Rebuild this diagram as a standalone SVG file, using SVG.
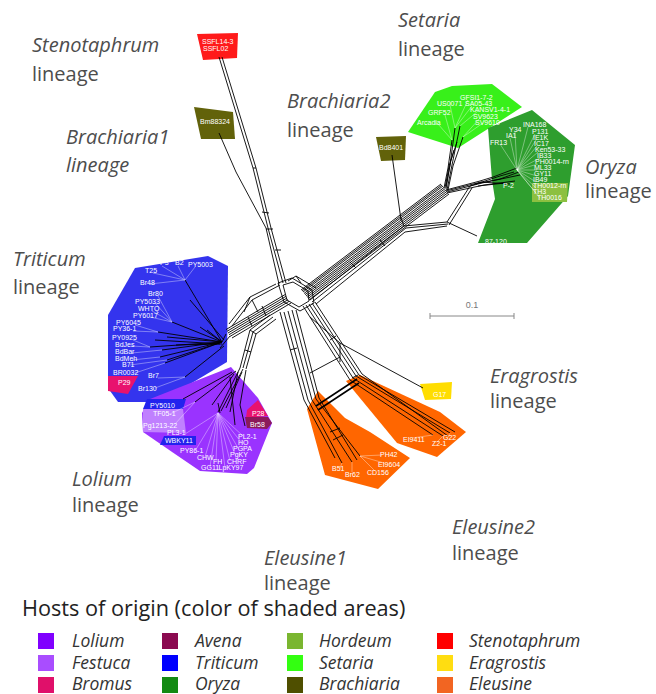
<svg xmlns="http://www.w3.org/2000/svg" width="656" height="694" viewBox="0 0 656 694">
<style>
.tip{font-family:"Liberation Sans",Arial,sans-serif;font-size:7px;fill:#fff}
.lin{font-family:"Open Sans","Liberation Sans",sans-serif;font-size:20px;fill:#4d4d4d}
.it{font-style:italic}
.ttl{font-family:"Open Sans","Liberation Sans",sans-serif;font-size:21.7px;fill:#222}
.leg{font-family:"Open Sans","Liberation Sans",sans-serif;font-size:17.5px;font-style:italic;fill:#333}
.net{fill:none;stroke:#000;stroke-width:0.9}
.ld{fill:none;stroke:#fff;stroke-width:0.5;opacity:0.75}
.sb{stroke:#888;stroke-width:1;fill:none}
</style>
<rect width="656" height="694" fill="#fff"/>

<!-- shaded areas (nodes) -->
<g id="stenotaphrum"><polygon points="197,34 238,33 237,58 203,60" fill="#ff1a1a"/></g>
<g id="brachiaria1"><polygon points="194,107 233,112 235,139 201,139" fill="#62620a"/></g>
<g id="brachiaria2"><polygon points="376,137 406,136 405,160 381,161" fill="#62620a"/></g>
<g id="setaria"><polygon points="408,132 435,92 452,86 492,84 522,107 458,148" fill="#38f01a"/></g>
<g id="oryza">
<polygon points="488,128 532,110 575,145 568,196 527,243 478,243 495,199 492,180" fill="#2e9e2e"/>
<polygon points="532,183 568,183 567,202 532,202" fill="#8cc040"/>
</g>
<g id="triticum">
<polygon points="135,268 208,256 228,266 227,362 160,402 118,402 108,388 108,315" fill="#3434ee"/>
<polygon points="108,376 138,376 128,394 108,391" fill="#e8126e"/>
</g>
<g id="lolium">
<polygon points="150,399 231,367 258,398 272,423 254,468 247,474 200,471 175,454 143,432 142,413" fill="#9a33ff"/>
<polygon points="143,409 183,409 186,433 143,432" fill="#c080ff"/>
<polygon points="147,399 186,399 183,409 143,409" fill="#2222ee"/>
<polygon points="164,436 196,436 196,445 160,445" fill="#2222ee"/>
<polygon points="258,400 268,416 246,418 247,410" fill="#e8126e"/>
<polygon points="245,417 268,417 272,423 267,429 247,428" fill="#8b1a5a"/>
</g>
<g id="eleusine2"><polygon points="346,381 360,375 440,412 466,432 437,457 397,443 355,392" fill="#ff6600"/></g>
<g id="eleusine1"><polygon points="307,409 318,391 345,418 370,432 410,458 378,489 325,475" fill="#ff6600"/></g>
<g id="eragrostis"><polygon points="420,384 452,382 451,399 425,400" fill="#ffdd00"/></g>

<!-- network -->
<g id="connectors" class="net">
<path d="M219,57 L253,168 L268,228 L283,283 M222,57 L256,168 L271,228 L286,283"/>
<path d="M219,133 L236,172 L266,228 L279,284 M253,168 L256,168 M266,229 L273,229 M262,212 L269,213 M275,250 L281,250"/>
<path d="M278,283 L292,278 L312,290 L314,303 L300,311 L284,302 Z M283,285 L293,282 L308,291 L309,301 L299,307 L287,300 Z M288,281 L296,276 L316,288 M296,276 L301,283"/>
<path d="M301,290 L441,184 M302,291 L442,185 M303,292 L443,186 M304,293.5 L444,187.5 M305,294.7 L445,188.7 M306,296 L446,190 M307,297.3 L447,191.3 M308,298.6 L448,192.6 M309,300 L449,194"/>
<path d="M310,300 L404,226 L447,222 M312,302 L406,228 L448,224 M316,304 L405,232 L447,226 M447,222 L477,236 M447,222 L470,186 M449,225 L472,188 M404,226 L401,218 M401,220 L392,155 M380,240 L385,246 M350,262 L356,268"/>
<path d="M446,189 L450,165 L455,128 M447,190 L452,165 L460,126 M448,190 L453,166 L463,137 M445,188 L449,166 L457,142 M444,188 L448,168 L452,140 M446,186 L451,160 L454,150"/>
<path d="M446,190 L480,181 L493,177 L517,168 M447,192 L482,183 L520,175 M447,193 L484,185 L515,181 M446,191 L481,182 L510,184 M470,186 L500,176 L514,172 M475,184 L500,179 L519,172 M478,186 L505,183"/>
<path d="M285,294.6 L226,329.6 M286,296.3 L227,331.3 M287,298 L228,333 M288,299.7 L229,334.7 M289,301.4 L230,336.4 M291,303 L232,338 M262,306 L266,316 M248,317 L252,326"/>
<path d="M280,285 L252,300 L232,326 M276,284 L250,297 L229,324 M252,300 L258,312 M250,297 L244,312"/>
<path d="M270,315 L250,330 L240,368 M273,317 L253,332 L243,368 M276,319 L256,334 L246,369 M250,330 L256,334 M245,350 L251,352"/>
<path d="M303,306 L350,380 L433,435 M306,305 L353,378 L443,436 M309,304 L356,376 L450,433 M312,303 L359,375 L455,432 M315,302 L362,374 L448,436 M330,340 L336,336 M352,378 L358,375"/>
<path d="M284,312 L308,400 L342,463 M288,311 L312,400 L352,462 M292,310 L316,399 L360,456 M280,312 L304,400 L335,458 M296,310 L319,398 L357,460 M330,432 L340,428 M333,440 L343,435 M290,350 L297,348"/>
<path d="M316,406 L357,379 M318,410 L359,383" stroke-width="1.6"/>
<path d="M310,317 L340,343 L340,362 M340,343 L423,388 M310,373 L340,357"/>
<path d="M222,342 L185,280 M222,342 L172,322 M222,342 L158,332 M222,342 L167,337 M222,342 L150,347 M222,342 L162,350 M222,342 L160,357 M222,342 L167,360 M222,342 L165,363 M224,346 L185,377 M222,342 L200,327 M222,342 L207,330 M220,344 L176,345 M226,334 L222,342 M230,336 L220,348 M224,340 L190,300 M222,344 L155,340"/>
<path d="M240,368 L218,412 M243,369 L221,411 M236,371 L195,402 M232,372 L183,399 M238,372 L230,412 M246,370 L240,405 L245,426 M230,377 L235,425 M218,403 L220,413 M242,372 L226,408 M234,374 L212,405"/>
</g>

<!-- leader lines -->
<g id="leaders" class="ld">
<path d="M185,280 L162,266 M185,280 L178,266 M185,280 L195,267 M185,280 L153,273 M185,280 L150,284 M172,322 L158,296 M172,322 L155,303 M172,322 L152,311 M172,322 L150,317 M158,332 L135,325 M158,332 L133,331 M150,347 L133,340 M150,347 L131,346 M162,350 L132,353 M160,357 L132,360 M167,360 L130,365 M165,363 L135,373 M185,377 L158,378 M185,377 L155,388"/>
<path d="M218,413 L185,434 M218,413 L195,451 M218,413 L205,457 M218,413 L216,461 M218,413 L210,467 M218,413 L225,468 M218,413 L230,461 M218,413 L235,454 M218,413 L238,448 M218,413 L241,442 M218,413 L243,436 M195,402 L170,414 M195,402 L175,424"/>
<path d="M455,128 L468,100 M455,128 L450,105 M455,128 L472,106 M452,140 L445,115 M460,126 L478,111 M463,137 L480,118 M463,137 L483,123 M452,140 L438,124"/>
<path d="M517,170 L528,127 M517,170 L515,132 M517,170 L535,134 M517,170 L510,138 M517,170 L536,140 M517,170 L500,144 M517,170 L537,146 M517,170 L538,152 M517,170 L540,158 M517,170 L538,164 M517,170 L537,170 M517,170 L537,176 M517,170 L536,182 M517,170 L536,188 M517,170 L536,193 M517,170 L540,198"/>
<path d="M342,463 L340,468 M352,462 L352,472 M360,456 L375,471 M360,456 L382,455 M360,456 L384,463 M433,435 L412,438 M443,436 L437,442 M450,433 L448,437"/>
</g>

<!-- tip labels -->
<g id="labels">
<text class="tip" x="202" y="43.5">SSFL14-3</text><text class="tip" x="203" y="51">SSFL02</text>
<text class="tip" x="200" y="123.5">Bm88324</text>
<text class="tip" x="379" y="149.5">Bd8401</text>
<text class="tip" x="460" y="99.5">GFSI1-7-2</text><text class="tip" x="437" y="105.5">US0071</text><text class="tip" x="465" y="105.5">SA05-43</text><text class="tip" x="428" y="114.5">GRF52</text><text class="tip" x="470" y="111.5">KANSV1-4-1</text><text class="tip" x="473" y="118.5">SV9623</text><text class="tip" x="475" y="124.5">SV9610</text><text class="tip" x="417" y="124.5">Arcadia</text>
<text class="tip" x="523" y="126.5">INA168</text><text class="tip" x="509" y="131.5">Y34</text><text class="tip" x="532" y="133.5">P131</text><text class="tip" x="506" y="137.5">IA1</text><text class="tip" x="533" y="139.5">IE1K</text><text class="tip" x="490" y="144.5">FR13</text><text class="tip" x="534" y="145.5">IC17</text><text class="tip" x="535" y="151.5">Ken53-33</text><text class="tip" x="537" y="157.5">IB33</text><text class="tip" x="535" y="163.5">PH0014-rn</text><text class="tip" x="534" y="169.5">ML33</text><text class="tip" x="534" y="175.5">GY11</text><text class="tip" x="533" y="181.5">IB49</text><text class="tip" x="533" y="188">TH0012-rn</text><text class="tip" x="533" y="194">TH3</text><text class="tip" x="537" y="199.5">TH0016</text><text class="tip" x="503" y="188">P-2</text><text class="tip" x="485" y="243.5">87-120</text>
<text class="tip" x="160" y="264.5">P3</text><text class="tip" x="175" y="264.5">B2</text><text class="tip" x="188" y="266.5">PY5003</text><text class="tip" x="145" y="272.5">T25</text><text class="tip" x="140" y="284.5">Br48</text><text class="tip" x="148" y="295.5">Br80</text><text class="tip" x="135" y="303.5">PY5033</text><text class="tip" x="138" y="310.5">WHTQ</text><text class="tip" x="133" y="317.5">PY6017</text><text class="tip" x="116" y="324.5">PY6045</text><text class="tip" x="113" y="330.5">PY36-1</text><text class="tip" x="112" y="339.5">PY0925</text><text class="tip" x="115" y="346.5">BdJes</text><text class="tip" x="115" y="353.5">BdBar</text><text class="tip" x="115" y="360.5">BdMeh</text><text class="tip" x="122" y="366.5">B71</text><text class="tip" x="113" y="374.5">BR0032</text><text class="tip" x="148" y="377.5">Br7</text><text class="tip" x="118" y="384.5">P29</text><text class="tip" x="138" y="390.5">Br130</text>
<text class="tip" x="150" y="407.5">PY5010</text><text class="tip" x="153" y="415.5">TF05-1</text><text class="tip" x="143" y="427.5">Pg1213-22</text><text class="tip" x="167" y="434.5">PL3-1</text><text class="tip" x="165" y="443">WBKY11</text><text class="tip" x="180" y="452.5">PY86-1</text><text class="tip" x="197" y="459.5">CHW</text><text class="tip" x="213" y="463.5">FH</text><text class="tip" x="201" y="469.5">GG11</text><text class="tip" x="218.5" y="470">LpKY97</text><text class="tip" x="227" y="463.5">CHRF</text><text class="tip" x="230" y="456.5">PgKY</text><text class="tip" x="233" y="450.5">PGPA</text><text class="tip" x="238" y="444.5">HO</text><text class="tip" x="238" y="438.5">PL2-1</text><text class="tip" x="252" y="415.5">P28</text><text class="tip" x="250" y="426.5">Br58</text>
<text class="tip" x="443" y="439.5">G22</text><text class="tip" x="403" y="441.5">EI9411</text><text class="tip" x="432" y="445.5">Z2-1</text><text class="tip" x="380" y="456.5">PH42</text><text class="tip" x="378" y="466.5">EI9604</text><text class="tip" x="332" y="470.5">B51</text><text class="tip" x="367" y="474.5">CD156</text><text class="tip" x="345" y="476.5">Br62</text><text class="tip" x="433" y="396.5">G17</text>
</g>

<!-- scale bar -->
<g id="scalebar">
<path class="sb" d="M430,316 L514,316 M430,313 L430,319 M514,313 L514,319"/>
<text x="472" y="308" text-anchor="middle" font-family="Liberation Sans,Arial,sans-serif" font-size="9" fill="#777">0.1</text>
</g>

<!-- lineage labels -->
<g id="lineage-labels">
<text class="lin" x="32" y="52"><tspan class="it">Stenotaphrum</tspan><tspan x="32" dy="29">lineage</tspan></text>
<text class="lin it" x="66" y="144">Brachiaria1<tspan x="66" dy="28">lineage</tspan></text>
<text class="lin" x="287" y="108"><tspan class="it">Brachiaria2</tspan><tspan x="287" dy="29">lineage</tspan></text>
<text class="lin" x="398" y="27"><tspan class="it">Setaria</tspan><tspan x="398" dy="29">lineage</tspan></text>
<text class="lin" x="585" y="174"><tspan class="it">Oryza</tspan><tspan x="585" dy="24">lineage</tspan></text>
<text class="lin" x="13" y="266"><tspan class="it">Triticum</tspan><tspan x="13" dy="28">lineage</tspan></text>
<text class="lin" x="72" y="486"><tspan class="it">Lolium</tspan><tspan x="72" dy="26">lineage</tspan></text>
<text class="lin" x="264" y="565"><tspan class="it">Eleusine1</tspan><tspan x="264" dy="25">lineage</tspan></text>
<text class="lin" x="452" y="534"><tspan class="it">Eleusine2</tspan><tspan x="452" dy="26">lineage</tspan></text>
<text class="lin" x="490" y="383"><tspan class="it">Eragrostis</tspan><tspan x="490" dy="25">lineage</tspan></text>
</g>

<!-- legend -->
<g id="legend">
<text class="ttl" x="22" y="616">Hosts of origin (color of shaded areas)</text>
<rect x="38" y="633" width="16" height="16" fill="#8000ff"/><text class="leg" x="72" y="647">Lolium</text>
<rect x="38" y="655" width="16" height="16" fill="#a94dff"/><text class="leg" x="72" y="669">Festuca</text>
<rect x="38" y="677" width="16" height="16" fill="#e0106a"/><text class="leg" x="72" y="690">Bromus</text>
<rect x="162" y="633" width="16" height="16" fill="#8b0a50"/><text class="leg" x="195" y="647">Avena</text>
<rect x="162" y="655" width="16" height="16" fill="#0000ff"/><text class="leg" x="195" y="669">Triticum</text>
<rect x="162" y="677" width="16" height="16" fill="#138a13"/><text class="leg" x="195" y="690">Oryza</text>
<rect x="287" y="633" width="16" height="16" fill="#7ab630"/><text class="leg" x="319" y="647">Hordeum</text>
<rect x="287" y="655" width="16" height="16" fill="#33ff11"/><text class="leg" x="319" y="669">Setaria</text>
<rect x="287" y="677" width="16" height="16" fill="#4f4f00"/><text class="leg" x="319" y="690">Brachiaria</text>
<rect x="437" y="633" width="16" height="16" fill="#ff0000"/><text class="leg" x="469" y="647">Stenotaphrum</text>
<rect x="437" y="655" width="16" height="16" fill="#ffdd11"/><text class="leg" x="469" y="669">Eragrostis</text>
<rect x="437" y="677" width="16" height="16" fill="#f26522"/><text class="leg" x="469" y="690">Eleusine</text>
</g>
</svg>
